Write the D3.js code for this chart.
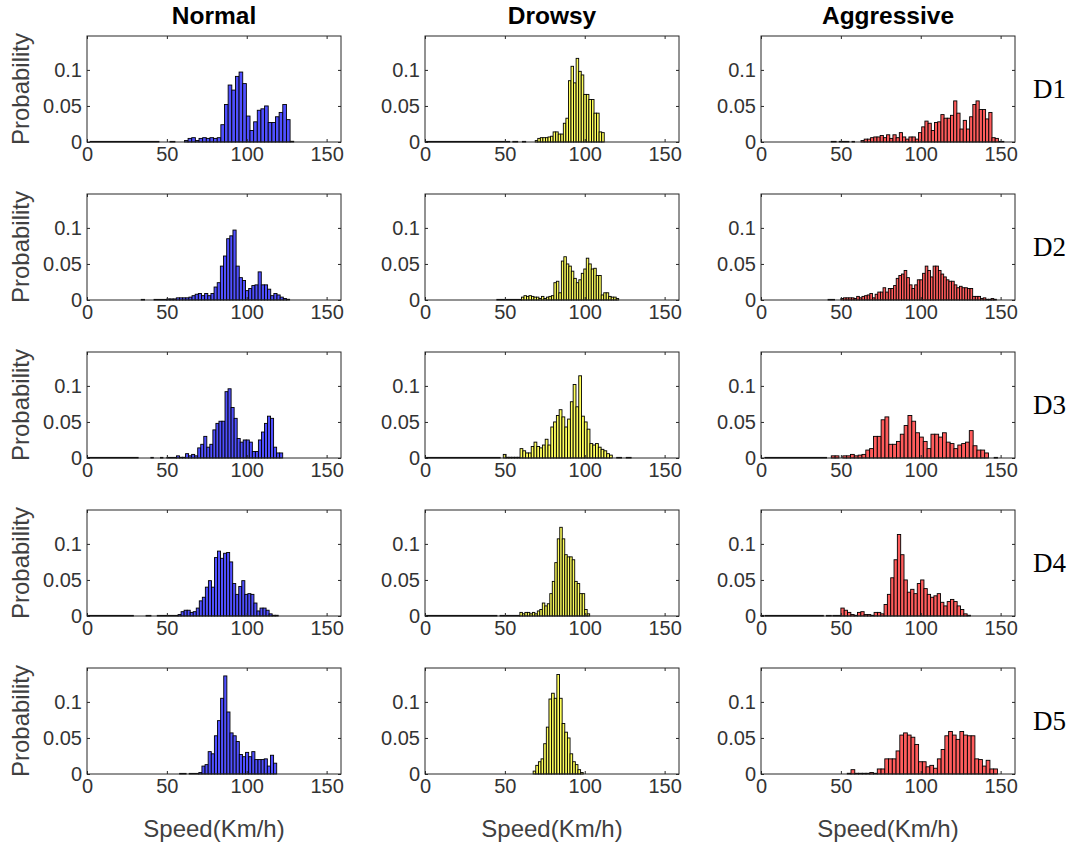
<!DOCTYPE html>
<html>
<head>
<meta charset="utf-8">
<script src="https://cdn.jsdelivr.net/npm/d3@7"></script>
<style>
  body { margin: 0; background: #fff; }
  svg { display: block; }
  .tick text { font-family: "Liberation Sans", Arial, sans-serif; font-size: 20px; fill: #333; }
  .tick line { stroke: #262626; }
  .axis-label { font-family: "Liberation Sans", Arial, sans-serif; font-size: 24px; fill: #404040; }
  .col-title { font-family: "Liberation Sans", Arial, sans-serif; font-size: 24.5px; font-weight: bold; fill: #000; }
  .row-label { font-family: "Liberation Serif", "Times New Roman", serif; font-size: 27px; fill: #000; }
</style>
</head>
<body>
<svg id="chart"></svg>
<script>
// ---- data ----
const behaviours = ["Normal", "Drowsy", "Aggressive"];
const drivers = ["D1", "D2", "D3", "D4", "D5"];
const xTicks = [0, 50, 100, 150];
const yTicks = [0, 0.05, 0.1];
const yTickLabels = ["0", "0.05", "0.1"];

// [first bin start (km/h), bin width] for D1..D5
const normalBins = [[61, 2.28], [50, 1.97], [56, 1.9], [57, 1.9], [70, 1.95]];
const drowsyBins = [[69, 1.6], [60.4, 1.56], [49, 1.75], [59.4, 1.56], [67.7, 1.65]];
const aggressiveBins = [[62.6, 2.0], [50, 1.65], [44, 2.4], [50, 2.08], [54, 2.35]];

// probabilities per bin
const normalD1 = [0.002, 0.005, 0.006, 0.002, 0.005, 0.006, 0.005, 0.006, 0.005, 0.006,
  0.024, 0.052, 0.079, 0.072, 0.091, 0.097, 0.081, 0.036, 0.016, 0.028,
  0.044, 0.046, 0.05, 0.027, 0.027, 0.035, 0.041, 0.052, 0.031, 0.001];
const normalD2 = [0.0015, 0.0015, 0.0015, 0.003, 0.003, 0.003, 0.003, 0.004, 0.006, 0.008,
  0.009, 0.006, 0.009, 0.006, 0.009, 0.018, 0.024, 0.047, 0.061, 0.085,
  0.089, 0.097, 0.047, 0.031, 0.027, 0.013, 0.016, 0.02, 0.021, 0.039,
  0.021, 0.021, 0.015, 0.006, 0.009, 0.007, 0.004, 0.002, 0.001];
const normalD3 = [0.003, 0.001, 0.001, 0.006, 0.003, 0.005, 0.003, 0.014, 0.019, 0.03,
  0.015, 0.019, 0.039, 0.048, 0.051, 0.051, 0.092, 0.096, 0.07, 0.055,
  0.027, 0.022, 0.025, 0.025, 0.022, 0.009, 0.009, 0.025, 0.036, 0.048,
  0.058, 0.055, 0.015, 0.007, 0.007];
const normalD4 = [0.002, 0.006, 0.008, 0.008, 0.005, 0.006, 0.011, 0.021, 0.026, 0.04,
  0.049, 0.04, 0.081, 0.09, 0.08, 0.087, 0.088, 0.075, 0.045, 0.03,
  0.041, 0.049, 0.03, 0.031, 0.03, 0.018, 0.007, 0.011, 0.011, 0.008,
  0.003, 0.001, 0.001];
const normalD5 = [0.002, 0.011, 0.013, 0.031, 0.028, 0.053, 0.074, 0.105, 0.136, 0.086,
  0.057, 0.053, 0.045, 0.027, 0.024, 0.03, 0.024, 0.031, 0.02, 0.02,
  0.02, 0.021, 0.011, 0.026, 0.015];

const drowsyD1 = [0.002, 0.005, 0.006, 0.006, 0.006, 0.007, 0.008, 0.014, 0.014, 0.011,
  0.011, 0.026, 0.033, 0.085, 0.105, 0.082, 0.116, 0.098, 0.093, 0.066,
  0.066, 0.059, 0.059, 0.04, 0.04, 0.014, 0.013];
const drowsyD2 = [0.004, 0.006, 0.005, 0.006, 0.005, 0.004, 0.004, 0.002, 0.005, 0.002,
  0.004, 0.005, 0.006, 0.024, 0.026, 0.01, 0.054, 0.06, 0.05, 0.047,
  0.04, 0.03, 0.024, 0.028, 0.037, 0.043, 0.058, 0.05, 0.043, 0.044,
  0.034, 0.034, 0.007, 0.01, 0.01, 0.005, 0.004, 0.004, 0.002];
const drowsyD3 = [0.005, 0.001, 0.001, 0.001, 0.001, 0.001, 0.013, 0.01, 0.007, 0.007,
  0.016, 0.022, 0.016, 0.014, 0.018, 0.026, 0.018, 0.043, 0.05, 0.059,
  0.067, 0.057, 0.043, 0.054, 0.078, 0.102, 0.071, 0.114, 0.058, 0.05,
  0.04, 0.02, 0.018, 0.02, 0.015, 0.012, 0.01, 0.006, 0.004];
const drowsyD4 = [0.005, 0.003, 0.005, 0.005, 0.003, 0.005, 0.003, 0.007, 0.009, 0.018,
  0.014, 0.017, 0.031, 0.048, 0.074, 0.107, 0.123, 0.107, 0.085, 0.082,
  0.082, 0.078, 0.048, 0.045, 0.031, 0.031, 0.009, 0.003];
const drowsyD5 = [0.004, 0.012, 0.017, 0.021, 0.042, 0.065, 0.104, 0.112, 0.105, 0.138,
  0.105, 0.07, 0.058, 0.05, 0.028, 0.017, 0.013, 0.006, 0.002];

const aggressiveD1 = [0.002, 0.004, 0.004, 0.006, 0.007, 0.007, 0.009, 0.006, 0.01,
  0.005, 0.01, 0.006, 0.013, 0.007, 0.004, 0.007, 0.007, 0.004, 0.013,
  0.021, 0.029, 0.026, 0.016, 0.027, 0.028, 0.038, 0.033, 0.033, 0.037,
  0.057, 0.04, 0.018, 0.03, 0.018, 0.035, 0.052, 0.057, 0.045, 0.045,
  0.032, 0.041, 0.006, 0.005];
const aggressiveD2 = [0.002, 0.003, 0.003, 0.003, 0.003, 0.002, 0.005, 0.003, 0.005, 0.006,
  0.007, 0.009, 0.003, 0.008, 0.011, 0.011, 0.017, 0.011, 0.016, 0.016,
  0.02, 0.03, 0.034, 0.036, 0.041, 0.031, 0.021, 0.016, 0.021, 0.028,
  0.028, 0.037, 0.047, 0.041, 0.032, 0.047, 0.047, 0.041, 0.036, 0.032,
  0.028, 0.026, 0.026, 0.021, 0.017, 0.019, 0.017, 0.017, 0.016, 0.016,
  0.005, 0.005, 0.005, 0.002, 0.003, 0.001, 0.001, 0.002, 0.001];
const aggressiveD3 = [0.003, 0.003, 0, 0.003, 0.003, 0.005, 0.003, 0.004, 0.005, 0.011,
  0.013, 0.03, 0.03, 0.053, 0.057, 0.019, 0.019, 0.023, 0.033, 0.045,
  0.059, 0.051, 0.035, 0.029, 0.023, 0.013, 0.033, 0.033, 0.029, 0.035,
  0.022, 0.02, 0.013, 0.018, 0.02, 0.022, 0.038, 0.017, 0.011, 0.011,
  0.007];
const aggressiveD4 = [0.011, 0.008, 0.005, 0.002, 0.001, 0.005, 0.006, 0.002, 0.002, 0.001,
  0.005, 0.005, 0.003, 0.016, 0.03, 0.053, 0.078, 0.113, 0.085, 0.05,
  0.033, 0.037, 0.031, 0.045, 0.05, 0.038, 0.03, 0.026, 0.028, 0.031,
  0.019, 0.014, 0.02, 0.023, 0.02, 0.014, 0.009, 0.003, 0.001];
const aggressiveD5 = [0.001, 0.006, 0.001, 0.001, 0.001, 0.001, 0.002, 0.001, 0.007, 0.007,
  0.021, 0.021, 0.021, 0.032, 0.054, 0.057, 0.054, 0.051, 0.041, 0.017,
  0.017, 0.01, 0.012, 0.008, 0.021, 0.034, 0.053, 0.059, 0.054, 0.048,
  0.059, 0.054, 0.053, 0.053, 0.021, 0.02, 0.011, 0.019, 0.007, 0.007];

// speed ranges with near-zero probability (drawn as a flat trace on the axis)
const normalTraces = [[[2, 45], [52, 55]], [[34, 36], [42, 50]], [[1, 32], [40, 41.5], [46, 47.5], [50, 56]],
  [[1, 29], [37, 40], [44, 57]], [[58, 62], [64, 70]]];
const drowsyTraces = [[[1, 53], [55, 58], [61, 63]], [[45, 60.4]], [[1, 47], [120, 123], [126, 129]],
  [[1, 45], [47, 59.4]], []];
const aggressiveTraces = [[[44, 47], [49, 55], [57, 58.5], [149, 152]], [[42, 46]], [[2.5, 41], [146, 148]],
  [[0, 1.5], [2.5, 39], [41, 44], [45, 50]], []];
const traceLevel = 0.0008;

const behaviourData = [
  { bins: normalBins, values: [normalD1, normalD2, normalD3, normalD4, normalD5], traces: normalTraces },
  { bins: drowsyBins, values: [drowsyD1, drowsyD2, drowsyD3, drowsyD4, drowsyD5], traces: drowsyTraces },
  { bins: aggressiveBins, values: [aggressiveD1, aggressiveD2, aggressiveD3, aggressiveD4, aggressiveD5], traces: aggressiveTraces }
];
const barColors = ["#5050ff", "#ffff5c", "#ff5c5c"];

// ---- layout ----
const width = 1079, height = 843;
const colLeft = [87, 425, 761];
const rowTop = [36, 194, 352, 510, 668];
const plotW = 254, plotH = 106;

const svg = d3.select("#chart").attr("width", width).attr("height", height);

const xScale = d3.scaleLinear().domain([0, 159]).range([0, plotW]);
const yScale = d3.scaleLinear().domain([0, 0.147]).range([plotH, 0]);

behaviours.forEach((name, c) => {
  // column title
  svg.append("text")
    .attr("class", "col-title")
    .attr("x", colLeft[c] + plotW / 2)
    .attr("y", 24)
    .attr("text-anchor", "middle")
    .text(name);

  // x label under last row
  svg.append("text")
    .attr("class", "axis-label")
    .attr("x", colLeft[c] + plotW / 2)
    .attr("y", 837)
    .attr("text-anchor", "middle")
    .text("Speed(Km/h)");

  drivers.forEach((drv, r) => {
    const g = svg.append("g")
      .attr("transform", `translate(${colLeft[c]},${rowTop[r]})`);

    const [start, w] = behaviourData[c].bins[r];
    const bars = behaviourData[c].values[r]
      .map((v, i) => ({ x0: start + i * w, x1: start + (i + 1) * w, v }))
      .filter(d => d.v > 0);

    // near-zero traces
    g.selectAll(".trace")
      .data(behaviourData[c].traces[r])
      .join("rect")
      .attr("class", "trace")
      .attr("x", d => xScale(d[0]))
      .attr("y", yScale(traceLevel))
      .attr("width", d => xScale(d[1]) - xScale(d[0]))
      .attr("height", yScale(0) - yScale(traceLevel))
      .attr("fill", barColors[c])
      .attr("stroke", "#000")
      .attr("stroke-width", 1);

    // bars
    g.selectAll(".bar")
      .data(bars)
      .join("rect")
      .attr("class", "bar")
      .attr("x", d => xScale(d.x0))
      .attr("y", d => yScale(d.v))
      .attr("width", d => xScale(d.x1) - xScale(d.x0))
      .attr("height", d => yScale(0) - yScale(d.v))
      .attr("fill", barColors[c])
      .attr("stroke", "#000")
      .attr("stroke-width", 0.9);

    // axes, ticks pointing inward
    g.append("g")
      .attr("transform", `translate(0,${plotH})`)
      .call(d3.axisBottom(xScale).tickValues(xTicks).tickSizeInner(-3).tickSizeOuter(0).tickPadding(5))
      .call(a => a.select(".domain").remove());
    g.append("g")
      .call(d3.axisTop(xScale).tickValues(xTicks).tickSizeInner(-3).tickSizeOuter(0).tickFormat(""))
      .call(a => a.select(".domain").remove());
    g.append("g")
      .call(d3.axisLeft(yScale).tickValues(yTicks).tickSizeInner(-3).tickSizeOuter(0).tickPadding(5)
        .tickFormat((d, i) => yTickLabels[i]))
      .call(a => a.select(".domain").remove());
    g.append("g")
      .attr("transform", `translate(${plotW},0)`)
      .call(d3.axisRight(yScale).tickValues(yTicks).tickSizeInner(-3).tickSizeOuter(0).tickFormat(""))
      .call(a => a.select(".domain").remove());

    // box
    g.append("rect")
      .attr("width", plotW)
      .attr("height", plotH)
      .attr("fill", "none")
      .attr("stroke", "#262626")
      .attr("stroke-width", 1);

    if (c === 0) {
      svg.append("text")
        .attr("class", "axis-label")
        .attr("transform", `translate(29,${rowTop[r] + plotH / 2}) rotate(-90)`)
        .attr("text-anchor", "middle")
        .text("Probability");
    }
    if (c === 2) {
      svg.append("text")
        .attr("class", "row-label")
        .attr("x", 1033)
        .attr("y", rowTop[r] + plotH / 2 + 9)
        .text(drv);
    }
  });
});
</script>
</body>
</html>
